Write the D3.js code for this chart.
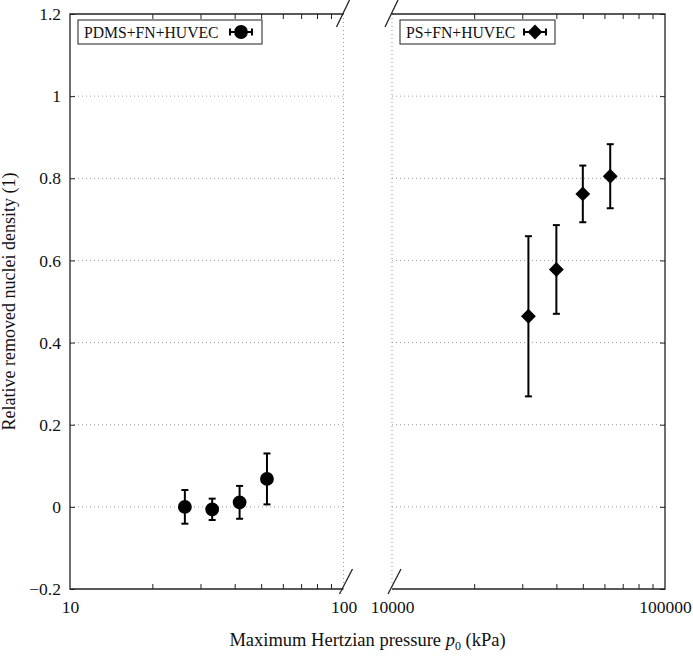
<!DOCTYPE html>
<html>
<head>
<meta charset="utf-8">
<script src="https://cdn.jsdelivr.net/npm/d3@7"></script>
<style>
  html, body { margin: 0; padding: 0; background: #fff; }
  svg text { font-family: "Liberation Serif", "Times New Roman", serif; fill: #111; }
</style>
</head>
<body>
<div id="chart"></div>
<script>
// PDMS + FN + HUVEC (low pressure panel)
const pdmsPressure = [26.3, 33.1, 41.7, 52.5];
const pdmsValue = [0.0, -0.006, 0.011, 0.068];
const pdmsErr = [0.041, 0.026, 0.040, 0.062];

// PS + FN + HUVEC (high pressure panel)
const psPressure = [31600, 40000, 50000, 63000];
const psValue = [0.464, 0.578, 0.762, 0.805];
const psErr = [0.195, 0.108, 0.069, 0.078];

const yTicks = [-0.2, 0, 0.2, 0.4, 0.6, 0.8, 1, 1.2];
const yGrid = [0, 0.2, 0.4, 0.6, 0.8, 1];
const leftTickLabels = [10, 100];
const rightTickLabels = [10000, 100000];
const seriesNames = ['PDMS+FN+HUVEC', 'PS+FN+HUVEC'];
const xTitle = 'Maximum Hertzian pressure';
const yTitle = 'Relative removed nuclei density (1)';

const width = 693;
const height = 657;
const plotTop = 14, plotBottom = 589;
const left = { x0: 70, x1: 343.5 };
const right = { x0: 392, x1: 665 };

const svg = d3.select('#chart')
  .append('svg')
  .attr('width', width)
  .attr('height', height);

const y = d3.scaleLinear().domain([-0.2, 1.2]).range([plotBottom, plotTop]);
const xL = d3.scaleLog().domain([10, 100]).range([left.x0, left.x1]);
const xR = d3.scaleLog().domain([10000, 100000]).range([right.x0, right.x1]);

const gridColor = '#9a9a9a';
const frameColor = '#222';

// horizontal grid
[left, right].forEach(p => {
  svg.append('g')
    .selectAll('line')
    .data(yGrid)
    .enter()
    .append('line')
    .attr('x1', p.x0)
    .attr('x2', p.x1)
    .attr('y1', d => y(d))
    .attr('y2', d => y(d))
    .attr('stroke', gridColor)
    .attr('stroke-width', 1)
    .attr('stroke-dasharray', '1,3');
});

// vertical dotted lines at the break
[xL(100), xR(10000)].forEach(x => {
  svg.append('line')
    .attr('x1', x).attr('x2', x)
    .attr('y1', plotTop).attr('y2', plotBottom)
    .attr('stroke', gridColor)
    .attr('stroke-dasharray', '1,3');
});

// minor ticks on x (inward, top and bottom)
function minors(lo) {
  const out = [];
  for (let k = 2; k <= 9; k++) out.push(lo * k);
  return out;
}

function xAxes(scale, lo, labels) {
  svg.append('g')
    .attr('class', 'x axis')
    .attr('transform', `translate(0, ${plotBottom})`)
    .call(d3.axisBottom(scale).tickValues(minors(lo)).tickSize(-5).tickFormat(''))
    .call(g => g.select('.domain').remove());
  svg.append('g')
    .attr('class', 'x axis')
    .attr('transform', `translate(0, ${plotTop})`)
    .call(d3.axisTop(scale).tickValues(minors(lo)).tickSize(-5).tickFormat(''))
    .call(g => g.select('.domain').remove());
  svg.append('g')
    .attr('class', 'x axis labels')
    .attr('transform', `translate(0, ${plotBottom})`)
    .call(d3.axisBottom(scale).tickValues(labels).tickSize(0).tickPadding(12).tickFormat(d => String(d)))
    .call(g => g.select('.domain').remove());
}
xAxes(xL, 10, leftTickLabels);
xAxes(xR, 10000, rightTickLabels);

svg.selectAll('.x.axis line').attr('stroke', frameColor);
svg.selectAll('.x.axis text').attr('font-size', 17.5).attr('fill', '#111');

// y axis (left panel, left side)
svg.append('g')
  .attr('class', 'y axis')
  .attr('transform', `translate(${left.x0}, 0)`)
  .call(d3.axisLeft(y).tickValues(yTicks).tickSize(-5).tickPadding(9)
    .tickFormat(d => d < 0 ? '\u2212' + Math.abs(d) : String(d)))
  .call(g => g.select('.domain').remove());

// y ticks on right panel, right side
svg.append('g')
  .attr('class', 'y axis')
  .attr('transform', `translate(${right.x1}, 0)`)
  .call(d3.axisRight(y).tickValues(yTicks).tickSize(-5).tickFormat(''))
  .call(g => g.select('.domain').remove());

svg.selectAll('.y.axis line').attr('stroke', frameColor);
svg.selectAll('.y.axis text').attr('font-size', 17.5).attr('fill', '#111');

// frame lines
const frame = svg.append('g')
  .attr('stroke', frameColor)
  .attr('stroke-width', 1.3)
  .attr('fill', 'none');
frame.append('path').attr('d', `M${left.x1},${plotTop}H${left.x0}V${plotBottom}H${left.x1}`);
frame.append('path').attr('d', `M${right.x0},${plotTop}H${right.x1}V${plotBottom}H${right.x0}`);

// break marks
[left.x1, right.x0].forEach(x => {
  frame.append('line')
    .attr('x1', x - 7).attr('y1', plotTop + 13)
    .attr('x2', x + 6).attr('y2', plotTop - 14);
  frame.append('line')
    .attr('x1', x - 4).attr('y1', plotBottom + 5)
    .attr('x2', x + 9).attr('y2', plotBottom - 20);
});

// markers
const circle = d3.symbol().type(d3.symbolCircle).size(150);
const diamond = d3.symbol().type(d3.symbolSquare).size(110);

function errorBars(xs, ys, es, xScale) {
  const g = svg.append('g').attr('stroke', '#000').attr('stroke-width', 2);
  const rows = xs.map((x, i) => ({ x, v: ys[i], e: es[i] }));
  g.selectAll('line.bar')
    .data(rows)
    .enter()
    .append('line')
    .attr('x1', d => xScale(d.x)).attr('x2', d => xScale(d.x))
    .attr('y1', d => y(d.v + d.e)).attr('y2', d => y(d.v - d.e));
  ['top', 'bot'].forEach(side => {
    g.selectAll('line.cap-' + side)
      .data(rows)
      .enter()
      .append('line')
      .attr('x1', d => xScale(d.x) - 3.5).attr('x2', d => xScale(d.x) + 3.5)
      .attr('y1', d => y(side === 'top' ? d.v + d.e : d.v - d.e))
      .attr('y2', d => y(side === 'top' ? d.v + d.e : d.v - d.e));
  });
  return rows;
}

const pdmsRows = errorBars(pdmsPressure, pdmsValue, pdmsErr, xL);
svg.append('g')
  .selectAll('path')
  .data(pdmsRows)
  .enter()
  .append('path')
  .attr('d', circle)
  .attr('transform', d => `translate(${xL(d.x)}, ${y(d.v)})`)
  .attr('fill', '#000');

const psRows = errorBars(psPressure, psValue, psErr, xR);
svg.append('g')
  .selectAll('path')
  .data(psRows)
  .enter()
  .append('path')
  .attr('d', diamond)
  .attr('transform', d => `translate(${xR(d.x)}, ${y(d.v)}) rotate(45)`)
  .attr('fill', '#000');

// legends
function legend(x0, x1, label, symbol, rot, cx) {
  const g = svg.append('g');
  g.append('rect')
    .attr('x', x0).attr('y', 20)
    .attr('width', x1 - x0).attr('height', 24)
    .attr('fill', '#fff')
    .attr('stroke', '#444')
    .attr('stroke-width', 1.2);
  g.append('text')
    .attr('x', x0 + 6).attr('y', 38)
    .attr('font-size', 15.7)
    .attr('fill', '#000')
    .text(label);
  const s = g.append('g').attr('stroke', '#000').attr('stroke-width', 2);
  s.append('line').attr('x1', cx - 11).attr('x2', cx + 11).attr('y1', 32).attr('y2', 32);
  s.append('line').attr('x1', cx - 11).attr('x2', cx - 11).attr('y1', 28.5).attr('y2', 35.5);
  s.append('line').attr('x1', cx + 11).attr('x2', cx + 11).attr('y1', 28.5).attr('y2', 35.5);
  g.append('path')
    .attr('d', symbol)
    .attr('transform', `translate(${cx}, 32) rotate(${rot})`)
    .attr('fill', '#000');
}
legend(78, 262, seriesNames[0], circle, 0, 241);
legend(400, 555, seriesNames[1], diamond, 45, 535);

// axis titles
svg.append('text')
  .attr('transform', `translate(15, ${(plotTop + plotBottom) / 2}) rotate(-90)`)
  .attr('text-anchor', 'middle')
  .attr('font-size', 18)
  .text(yTitle);

const xt = svg.append('text')
  .attr('x', (left.x0 + right.x1) / 2)
  .attr('y', 646)
  .attr('text-anchor', 'middle')
  .attr('font-size', 18.5);
xt.append('tspan').text(xTitle + ' ');
xt.append('tspan').attr('font-style', 'italic').text('p');
xt.append('tspan').attr('font-size', 12).attr('dy', 4).text('0');
xt.append('tspan').attr('dy', -4).text(' (kPa)');
</script>
</body>
</html>
